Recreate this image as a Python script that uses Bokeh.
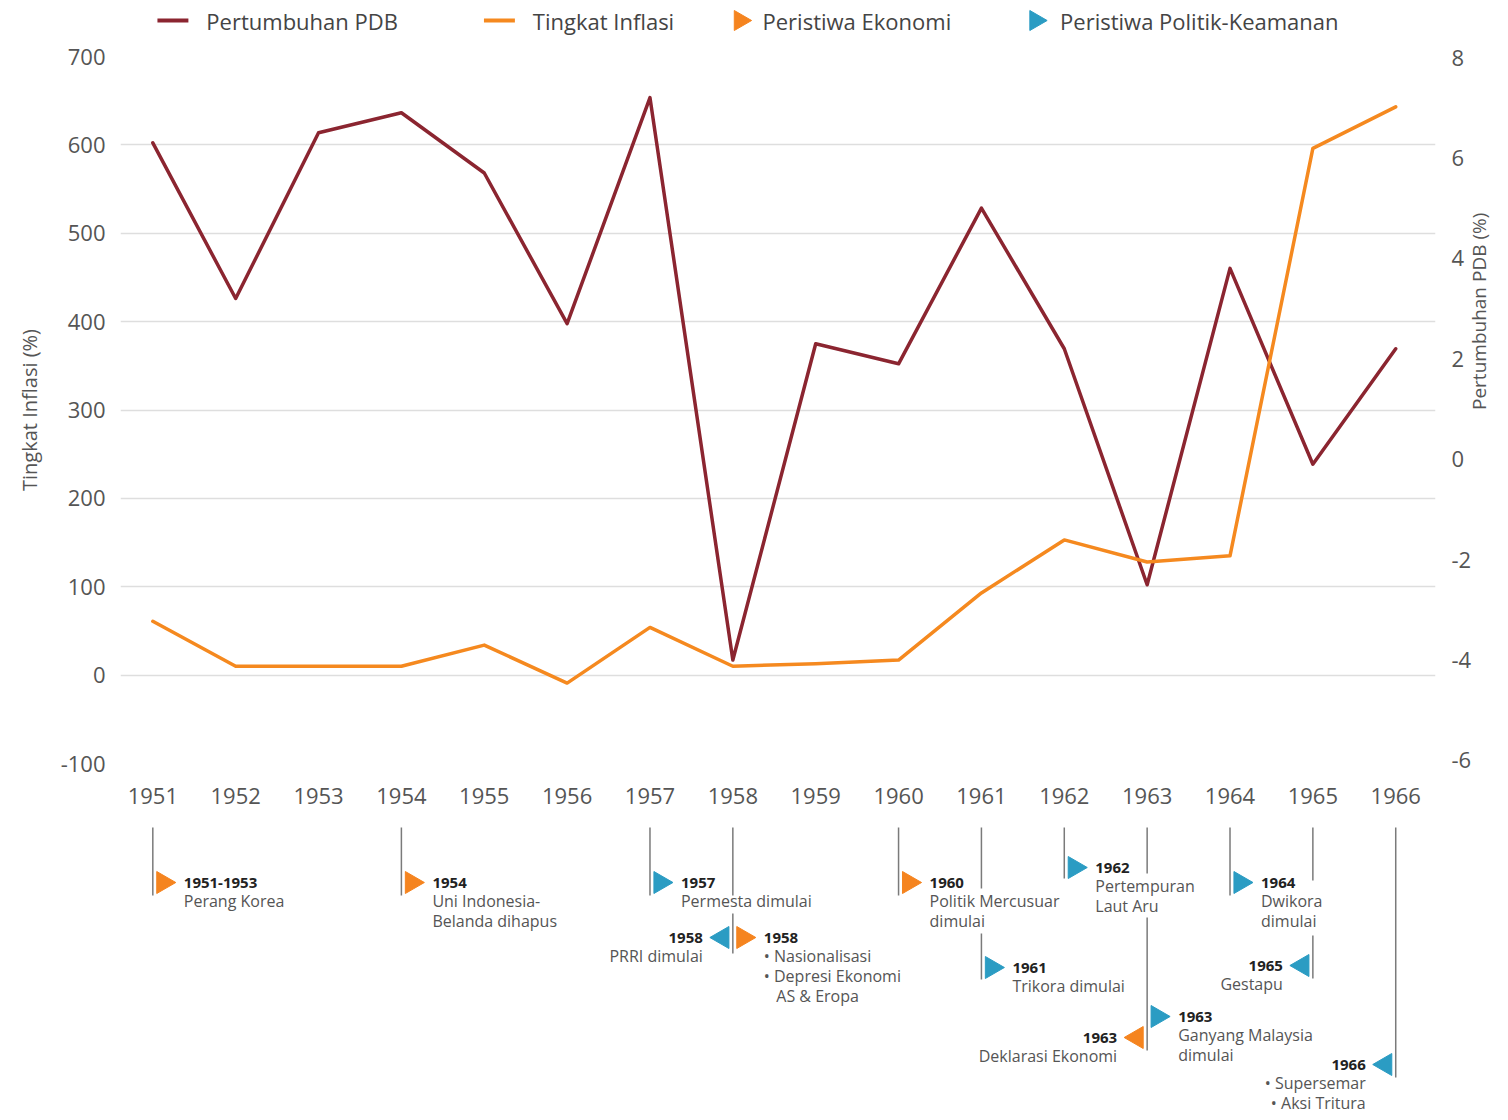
import math
from bokeh.plotting import figure
from bokeh.models import Range1d, LinearAxis, FixedTicker, ColumnDataSource
from bokeh.layouts import column
from bokeh.embed import file_html
from bokeh.resources import INLINE
from bokeh.core.properties import value

# ---------------- data ----------------
years = [1951, 1952, 1953, 1954, 1955, 1956, 1957, 1958,
         1959, 1960, 1961, 1962, 1963, 1964, 1965, 1966]
gdp_growth = [6.3, 3.2, 6.5, 6.9, 5.7, 2.7, 7.2, -4.0,
              2.3, 1.9, 5.0, 2.2, -2.5, 3.8, -0.1, 2.2]
inflation = [61, 10, 10, 10, 34, -9, 54, 10,
             13, 17, 93, 153, 128, 135, 596, 643]
left_ticks = [-100, 0, 100, 200, 300, 400, 500, 600, 700]
right_ticks = [-6, -4, -2, 0, 2, 4, 6, 8]

legend_labels = ["Pertumbuhan PDB", "Tingkat Inflasi", "Peristiwa Ekonomi", "Peristiwa Politik-Keamanan"]

event_years = [1951, 1954, 1957, 1958, 1958, 1960, 1961,
               1962, 1963, 1963, 1964, 1965, 1966]
event_labels = ["1951-1953", "1954", "1957", "1958", "1958", "1960", "1961",
                "1962", "1963", "1963", "1964", "1965", "1966"]
event_texts = [
    "Perang Korea",
    "Uni Indonesia-\nBelanda dihapus",
    "Permesta dimulai",
    "PRRI dimulai",
    "\u2022 Nasionalisasi\n\u2022 Depresi Ekonomi\n\u00a0\u00a0\u00a0AS & Eropa",
    "Politik Mercusuar\ndimulai",
    "Trikora dimulai",
    "Pertempuran\nLaut Aru",
    "Deklarasi Ekonomi",
    "Ganyang Malaysia\ndimulai",
    "Dwikora\ndimulai",
    "Gestapu",
    "\u2022 Supersemar\n\u2022 Aksi Tritura",
]
event_kinds = ["Ekonomi", "Ekonomi", "Politik", "Politik", "Ekonomi", "Ekonomi", "Politik",
               "Politik", "Ekonomi", "Politik", "Politik", "Politik", "Politik"]
event_sides = ["right", "right", "right", "left", "right", "right", "right",
               "right", "left", "right", "right", "left", "left"]

# ---------------- layout (page pixels) ----------------
event_rows = [882, 882, 882, 937, 937, 882, 967, 867, 1037, 1016, 882, 965, 1064]
stem_years = [1951, 1954, 1957, 1958, 1958, 1960, 1961, 1961, 1962, 1963, 1963, 1964, 1965, 1965, 1966]
stem_top = [827, 827, 827, 827, 913, 827, 827, 933, 827, 827, 917, 827, 827, 935, 827]
stem_bottom = [895, 895, 895, 895, 953, 895, 888, 979, 878, 873, 1050, 895, 880, 978, 1077]
legend_line_x = [157, 484]
legend_tri_x = [740.5, 1036.5]
legend_text_x = [206, 533, 763, 1061]
LEGEND_Y = 20

FONT = "Open Sans"
C_GDP = "#8B2530"
C_INF = "#F5891F"
C_ECO = "#F5841F"
C_POL = "#2B9CC3"
C_TXT = "#555555"

W = 1508
BL, BR = 120, 71
X0, X1 = 1950.61, 1966.48
FRAME_W = W - BL - BR
PX_PER_YEAR = FRAME_W / (X1 - X0)
HDR_H = 36
FRAME_TOP, FRAME_BOTTOM = 56, 763
MAIN_H = 815 - HDR_H

# ---------------- legend header (frame aligned with the chart frame) ----------------
hdr = figure(width=W, height=HDR_H, x_range=Range1d(BL, W - BR), y_range=Range1d(HDR_H, 0),
             output_backend="svg", toolbar_location=None,
             x_axis_location=None, y_axis_location=None,
             min_border_left=BL, min_border_right=BR, min_border_top=0, min_border_bottom=0)
hdr.outline_line_color = None
hdr.grid.visible = False
hdr.segment(x0=legend_line_x, y0=[LEGEND_Y] * 2, x1=[x + 31 for x in legend_line_x],
            y1=[LEGEND_Y] * 2, line_color=[C_GDP, C_INF], line_width=4)
hdr.scatter(x=legend_tri_x, y=[LEGEND_Y] * 2, marker="triangle", angle=-math.pi / 2,
            size=20, fill_color=[C_ECO, C_POL], line_color=[C_ECO, C_POL])
hdr.text(x=legend_text_x, y=[LEGEND_Y] * 4, text=legend_labels, text_baseline="middle",
         text_font=value(FONT), text_font_size="22px", text_color="#444444")

# ---------------- main chart ----------------
p = figure(width=W, height=MAIN_H, x_range=Range1d(X0, X1), y_range=Range1d(-100, 700),
           output_backend="svg", toolbar_location=None,
           min_border_left=BL, min_border_right=BR, min_border_top=FRAME_TOP - HDR_H,
           min_border_bottom=815 - FRAME_BOTTOM)
p.extra_y_ranges = {"gdp": Range1d(-6.06, 8.02)}
p.outline_line_color = None
p.xgrid.grid_line_color = None
p.ygrid.grid_line_color = "#dedede"
p.ygrid.grid_line_width = 1.5

p.xaxis.ticker = FixedTicker(ticks=years)
p.yaxis.ticker = FixedTicker(ticks=left_ticks)
p.yaxis.major_label_overrides = {v: str(v) for v in left_ticks}
p.yaxis.axis_label = "Tingkat Inflasi (%)"

right_axis = LinearAxis(y_range_name="gdp", ticker=FixedTicker(ticks=right_ticks),
                        axis_label="Pertumbuhan PDB (%)")
right_axis.major_label_overrides = {v: str(v) for v in right_ticks}
p.add_layout(right_axis, "right")
try:
    right_axis.axis_label_orientation = math.pi / 2
except Exception:
    pass

for ax in [p.xaxis[0], p.yaxis[0], right_axis]:
    ax.axis_line_color = None
    ax.major_tick_line_color = None
    ax.minor_tick_line_color = None
    ax.major_tick_out = 0
    ax.major_tick_in = 0
    ax.major_label_text_font = FONT
    ax.major_label_text_font_size = "22px"
    ax.major_label_text_color = C_TXT
    ax.axis_label_text_font = FONT
    ax.axis_label_text_font_size = "20px"
    ax.axis_label_text_font_style = "normal"
    ax.axis_label_text_color = C_TXT
p.xaxis.major_label_standoff = 24
p.yaxis[0].major_label_standoff = 15
p.yaxis[0].axis_label_standoff = 15
right_axis.major_label_standoff = 16
right_axis.axis_label_standoff = 5
right_axis.axis_label_text_font_size = "19px"

p.line(years, gdp_growth, y_range_name="gdp", line_width=3.5, color=C_GDP,
       line_join="round", line_cap="round")
p.line(years, inflation, line_width=3.5, color=C_INF,
       line_join="round", line_cap="round")

# ---------------- timeline ----------------
t = figure(width=W, height=305, x_range=p.x_range, y_range=Range1d(1120, 815),
           output_backend="svg", toolbar_location=None,
           x_axis_location=None, y_axis_location=None,
           min_border_left=BL, min_border_right=BR, min_border_top=0, min_border_bottom=0)
t.outline_line_color = None
t.grid.visible = False

t.segment(x0=stem_years, y0=stem_top, x1=stem_years, y1=stem_bottom,
          line_color="#7a7a7a", line_width=1.5)

sign = [1 if s == "right" else -1 for s in event_sides]
dx = 10.3 / PX_PER_YEAR
tri_src = ColumnDataSource(dict(
    x=[y + s * dx for y, s in zip(event_years, sign)],
    y=event_rows,
    ang=[-s * math.pi / 2 for s in sign],
    col=[C_ECO if k == "Ekonomi" else C_POL for k in event_kinds],
))
t.scatter(x="x", y="y", angle="ang", marker="triangle", size=22,
          fill_color="col", line_color="col", source=tri_src)

lab_src = ColumnDataSource(dict(
    x=event_years, y=event_rows, text=event_labels,
    xo=[31 if s > 0 else -30 for s in sign],
    align=["left" if s > 0 else "right" for s in sign],
))
t.text(x="x", y="y", text="text", x_offset="xo", text_align="align",
       text_baseline="middle", source=lab_src, text_font=value(FONT),
       text_font_style="bold", text_font_size="15px", text_color="#222222")

desc_src = ColumnDataSource(dict(
    x=event_years, y=[r + 7 for r in event_rows], text=event_texts,
    xo=[31 if s > 0 else -30 for s in sign],
    align=["left" if s > 0 else "right" for s in sign],
))
t.text(x="x", y="y", text="text", x_offset="xo", text_align="align",
       text_baseline="top", source=desc_src, text_font=value(FONT),
       text_font_size="16px", text_color=C_TXT, text_line_height=0.92)

layout = column(hdr, p, t, spacing=0)
open("out.html", "w").write(file_html(layout, INLINE))
